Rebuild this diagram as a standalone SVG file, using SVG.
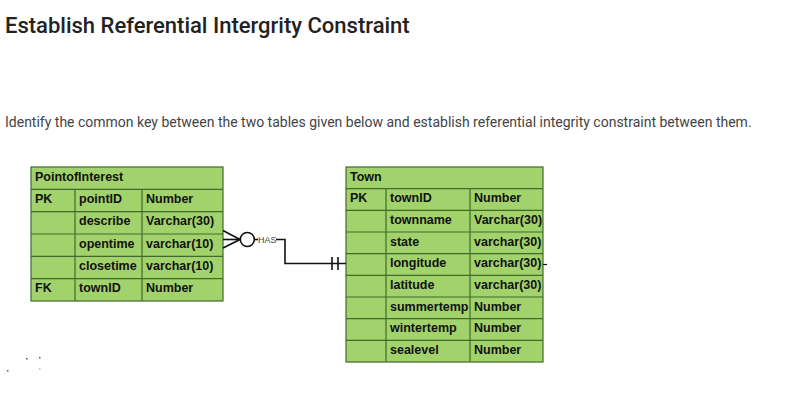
<svg xmlns="http://www.w3.org/2000/svg" width="796" height="408" viewBox="0 0 796 408">
<style>
.cell{fill:#a2d26c;stroke:#3f6a2a;stroke-width:1.2}
.t{font-family:"Liberation Sans",Arial,sans-serif;font-size:12.5px;font-weight:bold;fill:#111}
.ln{fill:none;stroke:#111;stroke-width:1.6}
</style>
<rect width="796" height="408" fill="#fff"/>
<text x="5" y="33" font-family="Roboto,sans-serif" font-size="22" font-weight="500" fill="#222">Establish Referential Intergrity Constraint</text>
<text x="5" y="127" font-family="Roboto,sans-serif" font-size="14" fill="#444">Identify the common key between the two tables given below and establish referential integrity constraint between them.</text>

<g id="pointofinterest">
<rect class="cell" x="31" y="167" width="192" height="134"/>
<line class="cell" x1="31" y1="189.3" x2="223" y2="189.3"/>
<line class="cell" x1="31" y1="211.7" x2="223" y2="211.7"/>
<line class="cell" x1="31" y1="234" x2="223" y2="234"/>
<line class="cell" x1="31" y1="256.3" x2="223" y2="256.3"/>
<line class="cell" x1="31" y1="278.7" x2="223" y2="278.7"/>
<line class="cell" x1="75" y1="189.3" x2="75" y2="301"/>
<line class="cell" x1="142" y1="189.3" x2="142" y2="301"/>
<text class="t" x="35" y="181">PointofInterest</text>
<text class="t" x="35" y="203">PK</text><text class="t" x="79" y="203">pointID</text><text class="t" x="146" y="203">Number</text>
<text class="t" x="79" y="225">describe</text><text class="t" x="146" y="225">Varchar(30)</text>
<text class="t" x="79" y="248">opentime</text><text class="t" x="146" y="248">varchar(10)</text>
<text class="t" x="79" y="270">closetime</text><text class="t" x="146" y="270">varchar(10)</text>
<text class="t" x="35" y="292">FK</text><text class="t" x="79" y="292">townID</text><text class="t" x="146" y="292">Number</text>
</g>

<g id="town">
<rect class="cell" x="346" y="167" width="197" height="195"/>
<line class="cell" x1="346" y1="188.7" x2="543" y2="188.7"/>
<line class="cell" x1="346" y1="210.3" x2="543" y2="210.3"/>
<line class="cell" x1="346" y1="232" x2="543" y2="232"/>
<line class="cell" x1="346" y1="253.7" x2="543" y2="253.7"/>
<line class="cell" x1="346" y1="275.3" x2="543" y2="275.3"/>
<line class="cell" x1="346" y1="297" x2="543" y2="297"/>
<line class="cell" x1="346" y1="318.7" x2="543" y2="318.7"/>
<line class="cell" x1="346" y1="340.3" x2="543" y2="340.3"/>
<line class="cell" x1="386" y1="188.7" x2="386" y2="362"/>
<line class="cell" x1="470" y1="188.7" x2="470" y2="362"/>
<text class="t" x="350" y="181">Town</text>
<text class="t" x="350" y="202">PK</text><text class="t" x="390" y="202">townID</text><text class="t" x="474" y="202">Number</text>
<text class="t" x="390" y="224">townname</text><text class="t" x="474" y="224">Varchar(30)</text>
<text class="t" x="390" y="246">state</text><text class="t" x="474" y="246">varchar(30)</text>
<text class="t" x="390" y="267">longitude</text><text class="t" x="474" y="267">varchar(30)</text>
<text class="t" x="390" y="289">latitude</text><text class="t" x="474" y="289">varchar(30)</text>
<text class="t" x="390" y="311">summertemp</text><text class="t" x="474" y="311">Number</text>
<text class="t" x="390" y="332">wintertemp</text><text class="t" x="474" y="332">Number</text>
<text class="t" x="390" y="354">sealevel</text><text class="t" x="474" y="354">Number</text>
</g>

<g id="connectors">
<line class="ln" x1="223" y1="230.5" x2="240" y2="239.5"/>
<line class="ln" x1="223" y1="239.5" x2="240" y2="239.5"/>
<line class="ln" x1="223" y1="248" x2="240" y2="239.5"/>
<circle class="ln" cx="247.3" cy="239.5" r="7"/>
<line class="ln" x1="254.3" y1="239.5" x2="258" y2="239.5"/>
<text x="258" y="242.8" font-family="Liberation Sans,Arial,sans-serif" font-size="9" fill="#444">HAS</text>
<polyline class="ln" points="276,239.5 285,239.5 285,263.5 346,263.5"/>
<line class="ln" x1="332" y1="257" x2="332" y2="270"/>
<line class="ln" x1="338" y1="257" x2="338" y2="270"/>
<line x1="543" y1="264.5" x2="547" y2="264.5" stroke="#111" stroke-width="1.2"/>
</g>

<g id="specks" fill="#555">
<rect x="26" y="358" width="1.5" height="1.5"/>
<rect x="39" y="357" width="1.5" height="1.5"/>
<rect x="7" y="370" width="1.5" height="1.5"/>
<rect x="39" y="368" width="1.5" height="2" fill="#b8d890"/>
</g>
</svg>
